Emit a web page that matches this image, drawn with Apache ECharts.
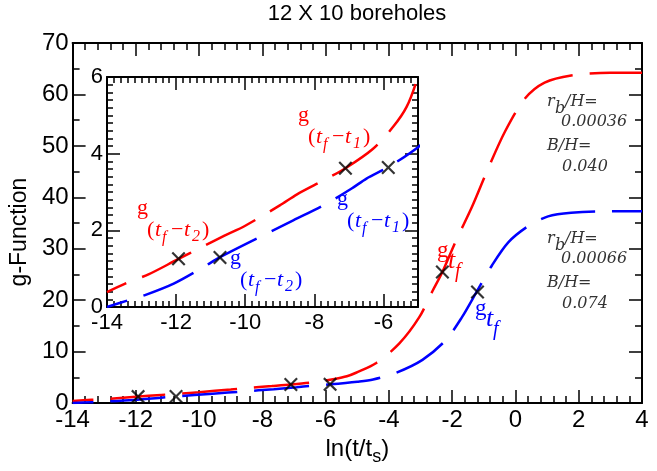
<!DOCTYPE html>
<html>
<head>
<meta charset="utf-8">
<script src="https://cdn.jsdelivr.net/npm/echarts@6/dist/echarts.min.js"></script>
<style>
  html, body { margin: 0; padding: 0; background: #fff; }
  #chart { width: 657px; height: 471px; }
</style>
</head>
<body>
<div id="chart"></div>
<script>
// ============ data ============
// r_b/H = 0.00036, B/H = 0.040 (red)
const redX = [-14, -13.4, -12.8, -12.0, -11.2, -10.6, -10.0, -9.0, -8.5, -7.7, -7.1, -6.3, -5.72, -5.33, -5.04,
  -4.4, -3.67, -3.04, -2.63, -2.31, -1.9, -1.37, -0.85, -0.33, 0.3, 0.92, 1.76, 3.0, 4.0]
const redY = [0.39, 0.64, 0.85, 1.22, 1.59, 1.86, 2.12, 2.65, 2.94, 3.32, 3.62, 4.13, 4.70, 5.22, 5.9,
  7.8, 11.6, 16.7, 21.7, 25.5, 31.3, 38.2, 45.8, 52.8, 59.2, 62.3, 63.7, 64.2, 64.2]

// r_b/H = 0.00066, B/H = 0.074 (blue)
const blueX = [-14, -13.4, -12.9, -12.07, -11.21, -10.73, -9.57, -8.61, -7.64, -6.92, -6.49, -5.86, -5.0,
  -4.5, -3.77, -2.94, -2.21, -1.69, -1.22, -0.74, -0.22, 0.4, 1.03, 1.76, 3.0, 4.0]
const blueY = [0.0, 0.17, 0.31, 0.61, 1.04, 1.30, 1.83, 2.26, 2.70, 3.09, 3.35, 3.65, 4.17,
  4.6, 5.9, 8.4, 12.2, 16.7, 21.7, 26.8, 31.3, 34.4, 36.3, 37.0, 37.3, 37.3]

// X markers (t2, t1 on both curves, then t_f)
const markX = [-11.93, -10.73, -7.1, -5.86, -2.31, -1.2]
const markY = [1.26, 1.29, 3.62, 3.64, 25.5, 21.6]

const titleText = '12 X 10 boreholes'
const yName = 'g-Function'

// ============ helpers ============
const SANS = '"Liberation Sans", Arial, sans-serif'
const SERIF = '"Liberation Serif", "Times New Roman", serif'
const DJ = '"DejaVu Serif", serif'
const RED = '#ff0000'
const BLUE = '#0000ff'

const pairs = (xs, ys) => xs.map((x, i) => [x, ys[i]])
const CROSS = 'path://M0,1.1L1.1,0L5,3.9L8.9,0L10,1.1L6.1,5L10,8.9L8.9,10L5,6.1L1.1,10L0,8.9L3.9,5Z'

const frameAxis = (extra) => Object.assign({
  type: 'value',
  axisLine: { onZero: false, lineStyle: { color: '#000', width: 2 } },
  axisTick: { inside: true, length: 13, lineStyle: { color: '#000', width: 1.5 } },
  splitLine: { show: false },
  axisLabel: { show: false }
}, extra)

const tickLabel = (size, margin) => ({
  show: true, color: '#000', fontSize: size, fontFamily: SANS, margin
})

const txt = (text, x, y, size, color, font, italic) => ({
  type: 'text', x, y, silent: true,
  style: {
    text, fill: color,
    font: (italic ? 'italic ' : '') + size + 'px ' + font,
    textAlign: 'left', textVerticalAlign: 'middle', align: 'left', verticalAlign: 'middle'
  }
})

// g_(t_f - t_n) label, anchored at the left/middle of "("
const gDiff = (x, y, color, n) => [
  txt('g', x - 10, y - 22, 22, color, SERIF, false),
  txt('(', x, y, 22, color, SERIF, false),
  txt('t', x + 8, y, 22, color, SERIF, true),
  txt('f', x + 15, y + 8, 16, color, SERIF, true),
  txt('\u2212', x + 24, y, 22, color, SERIF, false),
  txt('t', x + 37, y, 22, color, SERIF, true),
  txt(n, x + 45, y + 7, 16, color, SERIF, true),
  txt(')', x + 55, y, 22, color, SERIF, false)
]

// g_{t_f} label, anchored at "g"
const gTf = (x, y, color) => [
  txt('g', x, y, 23, color, SERIF, false),
  txt('t', x + 11, y + 10, 26, color, SERIF, true),
  txt('f', x + 18, y + 21, 20, color, SERIF, true)
]

const ratioBlock = (y, rb, bh) => [
  txt('r', 547, y, 16, '#333', DJ, true),
  txt('b', 555, y + 7, 16, '#333', DJ, true),
  txt('/H=', 565, y, 16, '#333', DJ, true),
  txt(rb, 561, y + 20, 16, '#333', DJ, true),
  txt('B/H=', 547, y + 44, 16, '#333', DJ, true),
  txt(bh, 562, y + 65, 16, '#333', DJ, true)
]

const dashed = (color) => ({ color, width: 2.5, type: [55, 17], dashOffset: 34 })

const lineSeries = (xs, ys, color, xi, yi) => ({
  type: 'line', xAxisIndex: xi, yAxisIndex: yi,
  data: pairs(xs, ys),
  showSymbol: false, smooth: 0.3,
  lineStyle: dashed(color), silent: true
})

const markSeries = (n, xi, yi) => ({
  type: 'scatter', xAxisIndex: xi, yAxisIndex: yi,
  data: pairs(markX.slice(0, n), markY.slice(0, n)),
  symbol: CROSS, symbolSize: 14, itemStyle: { color: '#000' }, z: 5, silent: true
})

const minor = (n, len) => ({ show: true, splitNumber: n, length: len, lineStyle: { color: '#000', width: 1.5 } })

// ============ chart ============
const chart = echarts.init(document.getElementById('chart'))

chart.setOption({
  animation: false,
  backgroundColor: '#fff',
  title: {
    text: titleText, left: 357, top: 3, textAlign: 'center', padding: 0,
    textStyle: { color: '#000', fontSize: 22, fontWeight: 'normal', fontFamily: SANS }
  },
  grid: [
    { left: 67, right: 15, top: 43, bottom: 60 },
    { left: 107, right: 239, top: 77, bottom: 164 }
  ],
  xAxis: [
    frameAxis({
      gridIndex: 0, position: 'bottom', min: -14, max: 4, interval: 2,
      minorTick: minor(5, 7),
      axisLabel: tickLabel(24, 5),
      name: '{a|ln(t/t}{s|s}{a|)}', nameLocation: 'middle', nameGap: 18,
      nameTextStyle: {
        rich: {
          a: { fontSize: 24, fontFamily: SANS, color: '#000' },
          s: { fontSize: 18, fontFamily: SANS, color: '#000', padding: [16, 0, 0, 0] }
        }
      }
    }),
    frameAxis({ gridIndex: 0, position: 'top', min: -14, max: 4, interval: 2, minorTick: minor(5, 7) }),
    // inset: major ticks
    frameAxis({
      gridIndex: 1, position: 'bottom', min: -14, max: -5, interval: 2,
      axisLabel: Object.assign(tickLabel(22, 5), { showMaxLabel: false })
    }),
    frameAxis({ gridIndex: 1, position: 'top', min: -14, max: -5, interval: 2 }),
    // inset: minor ticks every 0.2
    frameAxis({
      gridIndex: 1, position: 'bottom', min: -14, max: -5, interval: 0.2,
      axisLine: { show: false, onZero: false },
      axisTick: { inside: true, length: 6, lineStyle: { color: '#000', width: 1.5 } }
    }),
    frameAxis({
      gridIndex: 1, position: 'top', min: -14, max: -5, interval: 0.2,
      axisLine: { show: false, onZero: false },
      axisTick: { inside: true, length: 6, lineStyle: { color: '#000', width: 1.5 } }
    })
  ],
  yAxis: [
    frameAxis({
      gridIndex: 0, position: 'left', min: 0, max: 70, interval: 10,
      minorTick: minor(2, 7),
      axisLabel: tickLabel(24, 4),
      name: yName, nameLocation: 'middle', nameGap: 30,
      nameTextStyle: { color: '#000', fontSize: 23, fontFamily: SANS, padding: [0, 18, 0, 0] }
    }),
    frameAxis({ gridIndex: 0, position: 'right', min: 0, max: 70, interval: 10, minorTick: minor(2, 7) }),
    frameAxis({
      gridIndex: 1, position: 'left', min: 0, max: 6, interval: 2,
      minorTick: minor(10, 6),
      axisLabel: tickLabel(22, 4)
    }),
    frameAxis({ gridIndex: 1, position: 'right', min: 0, max: 6, interval: 2, minorTick: minor(10, 6) })
  ],
  series: [
    lineSeries(redX, redY, RED, 0, 0),
    lineSeries(blueX, blueY, BLUE, 0, 0),
    markSeries(6, 0, 0),
    lineSeries(redX, redY, RED, 2, 2),
    lineSeries(blueX, blueY, BLUE, 2, 2),
    markSeries(4, 2, 2)
  ],
  graphic: [].concat(
    gDiff(308, 137, RED, '1'),
    gDiff(147, 230, RED, '2'),
    gDiff(347, 221, BLUE, '1'),
    gDiff(240, 280, BLUE, '2'),
    gTf(437, 251, RED),
    gTf(475, 309, BLUE),
    ratioBlock(102, '0.00036', '0.040'),
    ratioBlock(239, '0.00066', '0.074')
  )
})
</script>
</body>
</html>
